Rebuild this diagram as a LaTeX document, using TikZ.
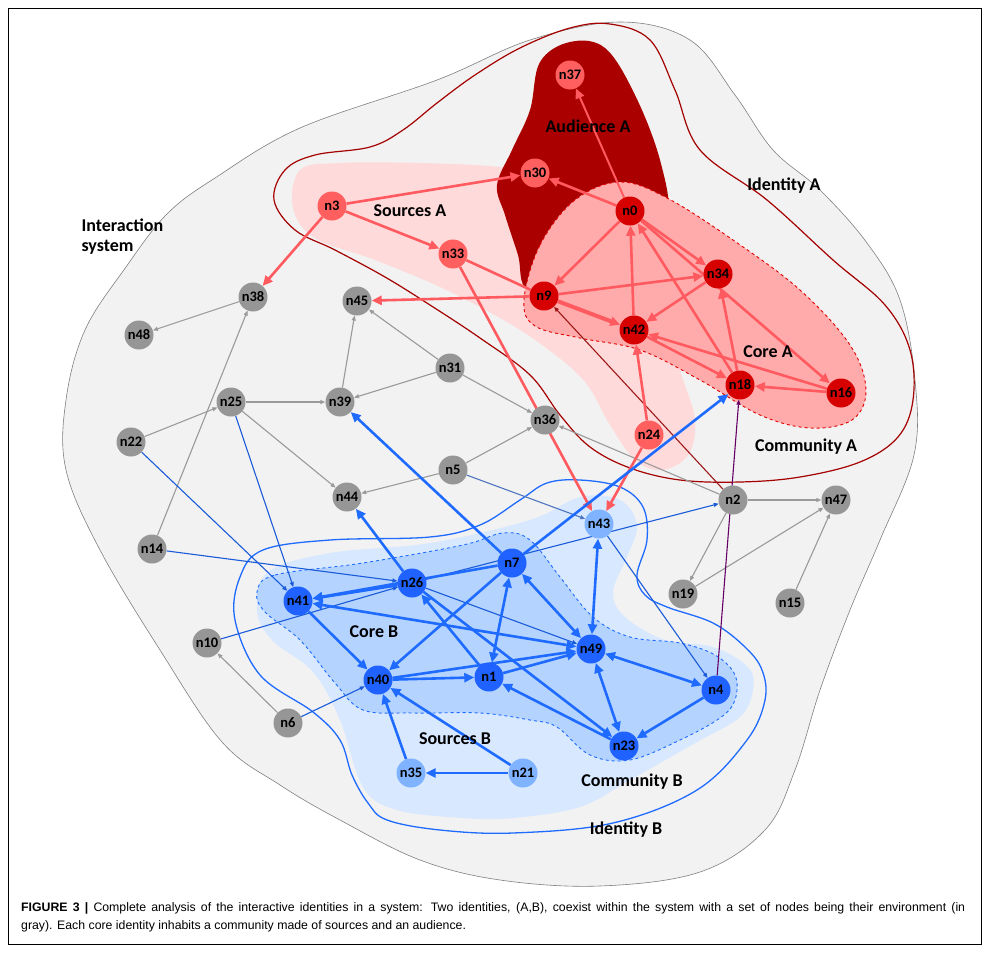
\documentclass[tikz,border=0pt]{standalone}
\usepackage{fontspec}
\setmainfont{Carlito}
\newfontfamily\capfont{Liberation Sans}
\usetikzlibrary{arrows.meta}

\definecolor{sysgray}{HTML}{F2F2F2}
\definecolor{sysline}{HTML}{808080}
\definecolor{idred}{HTML}{A50000}
\definecolor{srcpink}{HTML}{FFDADA}
\definecolor{audred}{HTML}{AA0000}
\definecolor{corepink}{HTML}{FFABAB}
\definecolor{coreline}{HTML}{E00000}
\definecolor{nodecorered}{HTML}{D60000}
\definecolor{nodesrcred}{HTML}{FF5F5F}
\definecolor{edgered}{HTML}{FF5A60}
\definecolor{idblue}{HTML}{1F6BFF}
\definecolor{srcblue}{HTML}{D8E8FF}
\definecolor{coreblue}{HTML}{B4D3FF}
\definecolor{nodecoreblue}{HTML}{1F62FF}
\definecolor{nodesrcblue}{HTML}{80B3FF}
\definecolor{nodegray}{HTML}{969696}
\definecolor{edgegray}{HTML}{9A9A9A}

\pgfdeclarelayer{regions}
\pgfdeclarelayer{links}
\pgfsetlayers{regions,links,main}

\tikzset{
  vertex/.style={circle,inner sep=0pt,minimum size=29pt,font=\fontsize{14.5}{14.5}\selectfont\bfseries},
  gvertex/.style={vertex,fill=nodegray},
  rcore/.style={vertex,fill=nodecorered},
  rsrc/.style={vertex,fill=nodesrcred},
  bcore/.style={vertex,fill=nodecoreblue},
  bsrc/.style={vertex,fill=nodesrcblue},
  bigtip/.tip={Triangle[length=10pt,width=9pt]},
  smalltip/.tip={Triangle[length=5pt,width=4pt]},
  redlink/.style={draw=edgered,line width=2.6pt,-bigtip},
  bluelink/.style={draw=idblue,line width=2.6pt,-bigtip},
  bluebi/.style={draw=idblue,line width=2.6pt,bigtip-bigtip},
  graylink/.style={draw=edgegray,line width=1.1pt,-smalltip},
  thinblue/.style={draw=idblue!85!black,line width=1.1pt,-smalltip},
  region/.style={font=\fontsize{18}{20}\selectfont\bfseries}
}

\begin{document}
\begin{tikzpicture}[x=1pt,y=-1pt]
\useasboundingbox (0,0) rectangle (989,953);

% Frame and caption
\draw[line width=0.8pt] (8,8) rectangle (981,944);
\node[anchor=north west,align=left,inner sep=0pt,font=\capfont\fontsize{12.3}{18}\selectfont] (caption) at (21,902)
  {\makebox[944pt][s]{\textbf{FIGURE 3 |} Complete analysis of the interactive identities in a system: Two identities, (A,B), coexist within the system with a set of nodes being their environment (in}\\
   gray). Each core identity inhabits a community made of sources and an audience.};

\begin{pgfonlayer}{regions}
% Interaction system
\draw[fill=sysgray,draw=sysline,line width=0.6pt] plot[smooth cycle,tension=0.6] coordinates {
  (437,80) (530,40) (620,22) (690,40) (735,95) (773,150) (820,190) (867,243) (900,300)
  (915,380) (914,455) (880,540) (850,610) (820,690) (795,770) (765,830) (700,872)
  (600,886) (500,880) (420,860) (340,820) (280,785) (222,742) (160,650) (100,550)
  (66,470) (66,400) (85,330) (126,267) (167,214) (215,178) (300,128)};

% Identity A
\draw[idred,line width=1.2pt] plot[smooth cycle,tension=0.6] coordinates {
  (570,28) (610,24) (650,40) (675,90) (700,150) (767,200) (833,260) (885,305) (910,350)
  (913,400) (898,437) (860,462) (800,477) (740,482) (680,480) (630,468) (590,447)
  (560,415) (530,375) (480,338) (430,305) (385,277) (335,250) (295,230) (274,200)
  (285,170) (315,155) (370,147) (403,130) (437,103) (475,75) (520,48)};

% Sources A
\fill[srcpink] plot[smooth cycle,tension=0.6] coordinates {
  (300,170) (340,163) (420,163) (500,167) (560,178) (620,220) (660,300) (680,370)
  (695,420) (688,455) (662,470) (635,460) (610,425) (585,382) (545,347) (500,318)
  (440,287) (375,260) (315,238) (293,208)};

% Audience A
\fill[audred] plot[smooth cycle,tension=0.6] coordinates {
  (530,110) (540,62) (570,42) (605,48) (635,95) (660,160) (668,220) (640,265)
  (580,292) (528,290) (518,255) (505,215) (497,185) (512,150)};

% Core A
\draw[fill=corepink,draw=coreline,dashed,line width=0.9pt] plot[smooth cycle,tension=0.6] coordinates {
  (524,300) (540,245) (575,200) (620,182) (667,198) (733,240) (800,290) (850,345)
  (866,390) (852,420) (810,428) (760,415) (700,380) (640,350) (580,338) (535,326)};

% Sources B / community B
\fill[srcblue] plot[smooth cycle,tension=0.6] coordinates {
  (257,610) (268,572) (330,553) (430,543) (530,520) (580,497) (620,500) (637,525)
  (627,557) (613,592) (625,617) (665,640) (713,647) (748,667) (753,690) (740,717)
  (697,742) (630,780) (580,807) (513,818) (463,818) (397,810) (363,787) (340,720)
  (313,672) (272,640)};

% Core B
\draw[fill=coreblue,draw=idblue,dashed,line width=0.9pt] plot[smooth cycle,tension=0.6] coordinates {
  (257,592) (275,575) (363,563) (463,545) (503,533) (530,540) (560,577) (593,617)
  (630,637) (680,643) (715,655) (735,675) (735,700) (720,718) (680,740) (630,760)
  (590,755) (557,727) (530,720) (480,713) (413,713) (363,710) (335,683) (300,640)
  (265,612)};

% Identity B
\draw[idblue,line width=1.3pt] plot[smooth cycle,tension=0.6] coordinates {
  (387,820) (440,830) (513,833) (613,823) (697,790) (747,740) (765,700) (762,670)
  (745,647) (713,623) (667,607) (645,595) (637,575) (647,540) (643,507) (620,487)
  (580,480) (547,483) (520,500) (480,525) (430,537) (330,540) (263,550) (240,577)
  (235,620) (260,675) (313,712) (340,740) (352,775) (368,803)};
\end{pgfonlayer}

% Nodes of the environment
\node[gvertex] (n38) at (253,297) {n38};
\node[gvertex] (n45) at (357,301) {n45};
\node[gvertex] (n48) at (139,335) {n48};
\node[gvertex] (n31) at (450,368) {n31};
\node[gvertex] (n25) at (231,402) {n25};
\node[gvertex] (n39) at (340,402) {n39};
\node[gvertex] (n36) at (545,420) {n36};
\node[gvertex] (n22) at (131,442) {n22};
\node[gvertex] (n5) at (453,470) {n5};
\node[gvertex] (n44) at (347,497) {n44};
\node[gvertex] (n2) at (733,500) {n2};
\node[gvertex] (n47) at (836,500) {n47};
\node[gvertex] (n14) at (152,549) {n14};
\node[gvertex] (n19) at (683,594) {n19};
\node[gvertex] (n15) at (790,603) {n15};
\node[gvertex] (n10) at (207,643) {n10};
\node[gvertex] (n6) at (288,723) {n6};

% Identity A
\node[rsrc] (n37) at (570,75) {n37};
\node[rsrc] (n30) at (535,173) {n30};
\node[rsrc] (n3) at (332,206) {n3};
\node[rsrc] (n33) at (453,254) {n33};
\node[rsrc] (n24) at (649,435) {n24};
\node[rcore] (n0) at (630,211) {n0};
\node[rcore] (n34) at (718,274) {n34};
\node[rcore] (n9) at (544,296) {n9};
\node[rcore] (n42) at (634,330) {n42};
\node[rcore] (n18) at (740,385) {n18};
\node[rcore] (n16) at (841,393) {n16};

% Identity B
\node[bsrc] (n43) at (599,524) {n43};
\node[bsrc] (n35) at (411,773) {n35};
\node[bsrc] (n21) at (523,773) {n21};
\node[bcore] (n7) at (512,563) {n7};
\node[bcore] (n26) at (412,583) {n26};
\node[bcore] (n41) at (298,601) {n41};
\node[bcore] (n49) at (591,649) {n49};
\node[bcore] (n40) at (378,680) {n40};
\node[bcore] (n1) at (489,677) {n1};
\node[bcore] (n4) at (716,690) {n4};
\node[bcore] (n23) at (624,746) {n23};

\begin{pgfonlayer}{links}
% Gray links
\draw[graylink] (n38) -- (n48);
\draw[graylink] (n14) -- (n38);
\draw[graylink] (n22) -- (n25);
\draw[graylink] (n25) -- (n39);
\draw[graylink] (n25) -- (n44);
\draw[graylink] (n39) -- (n45);
\draw[graylink] (n31) -- (n45);
\draw[graylink] (n31) -- (n39);
\draw[graylink] (n31) -- (n36);
\draw[graylink] (n5) -- (n36);
\draw[graylink] (n5) -- (n44);
\draw[graylink] (n2) -- (n36);
\draw[graylink] (n2) -- (n47);
\draw[graylink] (n2) -- (n19);
\draw[graylink] (n19) -- (n47);
\draw[graylink] (n15) -- (n47);
\draw[graylink] (n6) -- (n10);

% Thin links between the groups
\draw[thinblue] (n22) -- (n41);
\draw[thinblue] (n25) -- (n41);
\draw[thinblue] (n14) -- (n26);
\draw[thinblue] (n10) -- (n26);
\draw[thinblue] (n6) -- (n40);
\draw[thinblue] (n26) -- (n49);
\draw[thinblue] (n26) -- (n2);
\draw[thinblue,draw=idblue!50!gray] (n5) -- (n43);
\draw[thinblue] (n43) -- (n4);
\draw[thinblue,draw=violet!80!black] (n4) -- (n18);
\draw[thinblue,draw=idred!80!gray] (n2) -- (n9);

% Red links
\draw[redlink] (n3) -- (n30);
\draw[redlink] (n3) -- (n33);
\draw[redlink] (n3) -- (n38);
\draw[redlink] (n33) -- (n43);
\draw[redlink,-] (n33) -- (n9);
\draw[redlink] (n0) -- (n30);
\draw[redlink,line width=2pt] (n0) -- (n37);
\draw[redlink] (n0) -- (n9);
\draw[redlink] (n0) -- (n34);
\draw[redlink] (n0) -- (n16);
\draw[redlink] (n9) -- (n34);
\draw[redlink,line width=4pt] (n9) -- (n42);
\draw[redlink] (n9) -- (n45);
\draw[redlink] (n34) -- (n42);
\draw[redlink] (n42) -- (n0);
\draw[redlink] (n42) -- (n18);
\draw[redlink] (n16) -- (n42);
\draw[redlink] (n16) -- (n18);
\draw[redlink] (n18) -- (n34);
\draw[redlink] (n18) -- (n0);
\draw[redlink] (n24) -- (n42);
\draw[redlink] (n24) -- (n43);

% Blue links
\draw[bluelink] (n7) -- (n18);
\draw[bluelink] (n7) -- (n39);
\draw[bluelink] (n26) -- (n44);
\draw[bluelink] (n26) -- (n41);
\draw[bluelink] (n7) -- (n41);
\draw[bluebi] (n41) -- (n49);
\draw[bluelink] (n41) -- (n40);
\draw[bluelink] (n7) -- (n40);
\draw[bluelink] (n40) -- (n1);
\draw[bluelink] (n40) -- (n49);
\draw[bluelink] (n1) -- (n49);
\draw[bluelink] (n1) -- (n26);
\draw[bluebi] (n1) -- (n7);
\draw[bluebi] (n7) -- (n49);
\draw[bluelink] (n26) -- (n23);
\draw[bluelink] (n23) -- (n1);
\draw[bluebi] (n43) -- (n49);
\draw[bluebi] (n49) -- (n4);
\draw[bluebi] (n49) -- (n23);
\draw[bluelink] (n4) -- (n23);
\draw[bluelink] (n21) -- (n35);
\draw[bluelink] (n21) -- (n40);
\draw[bluelink] (n35) -- (n40);
\end{pgfonlayer}

% Region labels
\node[region] (labaud) at (588,126) {Audience A};
\node[region] (labsrca) at (410,211) {Sources A};
\node[region] (labida) at (784,186) {Identity A};
\node[region,align=left,anchor=west] (labsys) at (78,237) {Interaction\\system};
\node[region] (labcorea) at (768,352) {Core A};
\node[region] (labcoma) at (806,447) {Community A};
\node[region] (labcoreb) at (374,632) {Core B};
\node[region] (labsrcb) at (455,739) {Sources B};
\node[region] (labcomb) at (632,782) {Community B};
\node[region] (labidb) at (626,830) {Identity B};

\end{tikzpicture}
\end{document}
